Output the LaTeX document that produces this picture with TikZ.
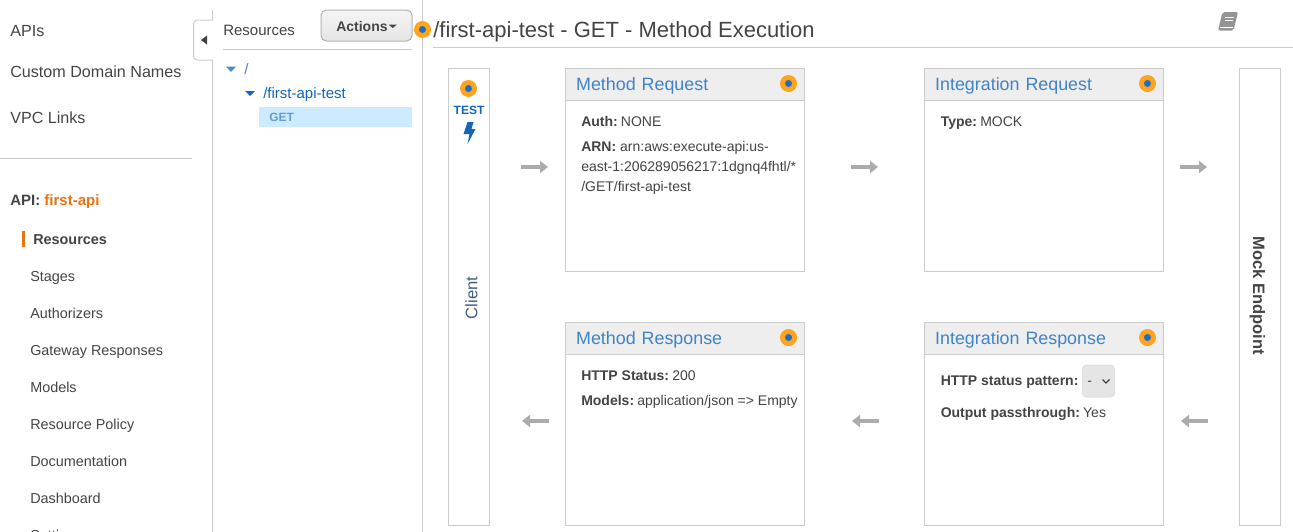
\documentclass[tikz,border=0pt]{standalone}
\usepackage{fontspec}
\setmainfont{Liberation Sans}
\usetikzlibrary{arrows.meta}
\definecolor{inktext}{HTML}{444444}
\definecolor{linkblue}{HTML}{3F83C8}
\definecolor{treeblue}{HTML}{1166BB}
\definecolor{apiorange}{HTML}{EC7211}
\definecolor{rulegray}{HTML}{CCCCCC}
\definecolor{headgray}{HTML}{EEEEEE}
\definecolor{dotorange}{HTML}{FFA41C}
\definecolor{dotblue}{HTML}{1D6FC4}
\definecolor{clientslate}{HTML}{40607F}
\newcommand{\fieldname}[1]{\textbf{#1}\hspace{-1.5pt}}

\begin{document}
\begin{tikzpicture}[
    x=.75pt, y=-.75pt,
    plain/.style={inner sep=0pt, anchor=base west, text=inktext},
    navbig/.style={plain, font=\fontsize{12.1}{14}\selectfont},
    navsmall/.style={plain, font=\fontsize{10.8}{12}\selectfont},
    field/.style={plain, font=\fontsize{10.5}{12}\selectfont},
    treelink/.style={plain, text=treeblue, font=\fontsize{11.25}{13}\selectfont},
    panel/.style={draw=rulegray, line width=.75pt, fill=white, minimum width=179.25pt,
        minimum height=152.25pt, inner sep=0pt},
    panelhead/.style={draw=rulegray, line width=.75pt, fill=headgray, anchor=north,
        minimum width=179.25pt, minimum height=24pt, inner sep=0pt, text height=8.6pt, text depth=0pt,
        text width=163.25pt, align=left, text=linkblue, font=\fontsize{13.4}{16}\selectfont},
    sidebar/.style={draw=rulegray, line width=.75pt, fill=white, minimum width=30.75pt,
        minimum height=342.75pt, inner sep=0pt},
    hotspot/.style={circle, fill=dotorange, minimum size=12.75pt, inner sep=0pt,
        path picture={\fill[dotblue] (path picture bounding box.center) circle (3.5);}},
    flow/.style={draw=black!33, line width=3pt, -{Triangle[length=6pt,width=9pt]}},
    rule/.style={draw=rulegray, line width=.75pt}
]
    \path[use as bounding box, clip] (0,0) rectangle (1293,532);

    % left navigation
    \node[navbig] (apis) at (10,36) {APIs};
    \node[navbig] (domains) at (10,77) {Custom Domain Names};
    \node[navbig] (vpc) at (10,123) {VPC Links};
    \draw[rule] (0,158.5) -- (192,158.5);
    \node[plain, font=\fontsize{11.25}{13}\selectfont] (api) at (10,205) {\textbf{API:} \textcolor{apiorange}{\textbf{first-api}}};
    \fill[apiorange] (22,231) rectangle (25,247);
    \node[navsmall] (resources) at (33,244) {\textbf{Resources}};
    \node[navsmall] (stages) at (30,281) {Stages};
    \node[navsmall] (authorizers) at (30,318) {Authorizers};
    \node[navsmall] (gateway) at (30,355) {Gateway Responses};
    \node[navsmall] (models) at (30,392) {Models};
    \node[navsmall] (policy) at (30,429) {Resource Policy};
    \node[navsmall] (docs) at (30,466) {Documentation};
    \node[navsmall] (dashboard) at (30,503) {Dashboard};
    \node[navsmall] (settings) at (30,540) {Settings};

    % column rules and collapse tab
    \draw[rule] (212.5,10) -- (212.5,20) -- (197,20) to[out=180,in=90] (193.5,24)
        -- (193.5,56) to[out=-90,in=180] (197,60) -- (212.5,60) -- (212.5,532);
    \fill[black!75] (207,35.5) -- (207,44.5) -- (201,40) -- cycle;
    \draw[rule] (422.5,0) -- (422.5,532);

    % resource tree
    \node[plain, font=\fontsize{11.25}{13}\selectfont] (restitle) at (223,35) {Resources};
    \draw[rule] (223,49.5) -- (412,49.5);
    \node[draw=black!30, line width=.75pt, rounded corners=4pt, top color=white!96!black,
        bottom color=black!10, minimum width=68.25pt, minimum height=23.25pt, inner sep=0pt,
        text=inktext] (actions) at (366.5,25.5) {};
    \node[plain, font=\fontsize{10.5}{12}\bfseries\selectfont] (actionslabel) at (336,31) {Actions};
    \fill[inktext] (388.5,24.5) -- (397,24.5) -- (392.75,28) -- cycle;
    \fill[treeblue!75] (226,66.5) -- (236,66.5) -- (231,72) -- cycle;
    \node[treelink, text=linkblue] (root) at (244,74) {/};
    \fill[treeblue] (245,91) -- (255,91) -- (250,96) -- cycle;
    \node[treelink] (child) at (263,98.7) {/first-api-test};
    \node[fill=blue!40!cyan!20, minimum width=114.75pt, minimum height=15pt, inner sep=0pt,
        anchor=west] (getrow) at (259,117) {};
    \node[plain, text=linkblue!80, font=\fontsize{9}{11}\bfseries\selectfont] (getlabel) at (269,121) {GET};

    % page title
    \node[hotspot] (titledot) at (422.5,29.5) {};
    \node[plain, font=\fontsize{16.5}{20}\selectfont] (title) at (433,37) {/first-api-test - GET - Method Execution};
    \draw[rule] (433,47.5) -- (1293,47.5);
    \fill[black!42, rounded corners=1.5pt] (1222.5,12) -- (1238,12) -- (1233.5,30.5) -- (1218,30.5) -- cycle;
    \draw[white, line width=.75pt] (1225,17) -- (1234,17) (1224.5,20) -- (1233,20) (1220,27) -- (1233,27);

    % side columns
    \node[sidebar] (client) at (469,297) {};
    \node[sidebar] (mock) at (1260,297) {};
    \node[hotspot] (testdot) at (468.5,88.5) {};
    \node[inner sep=0pt, text=treeblue, font=\fontsize{9}{11}\bfseries\selectfont] (testlabel) at (469,110) {TEST};
    \fill[treeblue] (467.5,122) -- (473.5,122) -- (471.5,129) -- (475.5,129) -- (467.5,144)
        -- (469.5,134) -- (463.5,134) -- cycle;
    \node[rotate=90, inner sep=0pt, text=clientslate, font=\fontsize{12.5}{14}\selectfont] (clientlabel) at (471.5,298) {Client};
    \node[rotate=-90, inner sep=0pt, text=inktext, font=\fontsize{12.4}{14}\bfseries\selectfont] (mocklabel) at (1257.5,295.5) {Mock Endpoint};

    % panels
    \node[panel] (mreq) at (685,170) {};
    \node[panel] (ireq) at (1044,170) {};
    \node[panel] (mresp) at (685,424) {};
    \node[panel] (iresp) at (1044,424) {};
    \node[panelhead] (mreqhead) at (mreq.north) {Method Request};
    \node[panelhead] (ireqhead) at (ireq.north) {Integration Request};
    \node[panelhead] (mresphead) at (mresp.north) {Method Response};
    \node[panelhead] (iresphead) at (iresp.north) {Integration Response};
    \node[hotspot] (mreqdot) at (788.5,83.5) {};
    \node[hotspot] (ireqdot) at (1147.5,83.5) {};
    \node[hotspot] (mrespdot) at (788.5,337.5) {};
    \node[hotspot] (irespdot) at (1147.5,337.5) {};

    % panel contents
    \node[field] (auth) at (581,126) {\fieldname{Auth:} NONE};
    \node[field] (arn) at (581,151) {\textbf{ARN:} arn:aws:execute-api:us-};
    \node[field] (arnb) at (581,171) {east-1:206289056217:1dgnq4fhtl/*};
    \node[field] (arnc) at (581,191) {/GET/first-api-test};
    \node[field] (type) at (940.5,126) {\fieldname{Type:} MOCK};
    \node[field] (status) at (581,380) {\fieldname{HTTP Status:} 200};
    \node[field] (respmodels) at (581,405) {\fieldname{Models:} application/json => Empty};
    \node[field] (pattern) at (940.5,385) {\textbf{HTTP status pattern:}};
    \node[draw=black!12, line width=.75pt, fill=black!10, rounded corners=3pt, minimum width=24pt,
        minimum height=24pt, inner sep=0pt] (select) at (1098.5,381) {};
    \node[field] (selectlabel) at (1087,385) {-};
    \draw[inktext, line width=1pt] (1102.5,379.5) -- (1106,383) -- (1109.5,379.5);
    \node[field] (passthrough) at (940.5,417) {\fieldname{Output passthrough:} Yes};

    % flow arrows
    \coordinate (toprow) at (0,167);
    \coordinate (bottomrow) at (0,421);
    \draw[flow, shorten <=23.25pt, shorten >=12.75pt] (client.east |- toprow) -- (mreq.west |- toprow);
    \draw[flow, shorten <=34.5pt, shorten >=34.5pt] (mreq.east |- toprow) -- (ireq.west |- toprow);
    \draw[flow, shorten <=12pt, shorten >=24pt] (ireq.east |- toprow) -- (mock.west |- toprow);
    \draw[flow, shorten <=23.25pt, shorten >=12.75pt] (mock.west |- bottomrow) -- (iresp.east |- bottomrow);
    \draw[flow, shorten <=33.75pt, shorten >=35.25pt] (iresp.west |- bottomrow) -- (mresp.east |- bottomrow);
    \draw[flow, shorten <=12pt, shorten >=24pt] (mresp.west |- bottomrow) -- (client.east |- bottomrow);
\end{tikzpicture}
\end{document}
